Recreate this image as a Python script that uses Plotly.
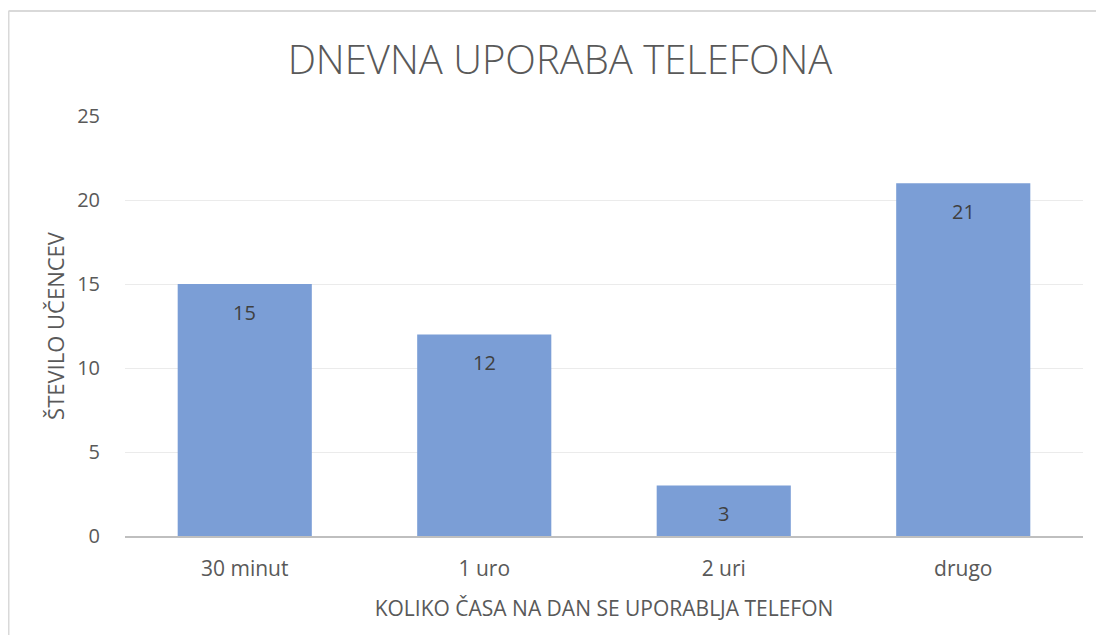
import plotly.graph_objects as go

categories = ["30 minut", "1 uro", "2 uri", "drugo"]
values = [15, 12, 3, 21]
y_ticks = [0, 5, 10, 15, 20, 25]

# page has an 8px body margin; figure origin sits at (8, 8), keep within window
OFF = 8
W, H = 1104 - 2 * OFF, 643 - 2 * OFF
L, R, T, B = 125 - OFF, 1083 - OFF, 116 - OFF, 536 - OFF
pw, ph = R - L, B - T

font_family = "Open Sans, Noto Sans, sans-serif"
txt = "#595959"

fig = go.Figure(go.Bar(
    x=categories, y=values,
    marker=dict(color="#7B9ED6", line=dict(width=0)),
    hoverinfo="x+y",
))

for c, v in zip(categories, values):
    fig.add_annotation(x=c, y=v, xref="x", yref="y", text=str(v), showarrow=False,
                       yanchor="middle", yshift=-28,
                       font=dict(family=font_family, size=20, color="#404040"))

def px(x):
    return (x - L) / pw

def py(y):
    return (B - y) / ph

border = dict(color="#D9D9D9", width=2)
fig.update_layout(
    width=W, height=H,
    margin=dict(l=L, r=W - R, t=T, b=H - B, pad=0),
    paper_bgcolor="white", plot_bgcolor="white",
    bargap=0.44,
    showlegend=False,
    font=dict(family=font_family, color=txt),
    title=dict(text="DNEVNA UPORABA TELEFONA", x=(560 - OFF) / W, xanchor="center",
               y=1 - (60 - OFF) / H, yanchor="middle",
               font=dict(family=font_family, size=40, color=txt, weight=300)),
    xaxis=dict(showgrid=False, showline=True, linecolor="#BFBFBF", linewidth=2, ticks="",
               tickfont=dict(size=21, color=txt), ticklabelstandoff=13,
               title=dict(text="KOLIKO ČASA NA DAN SE UPORABLJA TELEFON", font=dict(size=21, color=txt), standoff=20)),
    yaxis=dict(range=[0, 25], tickvals=y_ticks, showgrid=True, gridcolor="#EBEBEB", gridwidth=1,
               zeroline=False, showline=False, ticks="", tickfont=dict(size=20, color=txt),
               ticklabelstandoff=24,
               title=dict(text="ŠTEVILO UČENCEV", font=dict(size=22, color=txt), standoff=6)),
    shapes=[
        dict(type="line", xref="paper", yref="paper", x0=px(0.5), x1=px(W), y0=py(3), y1=py(3),
             line=border, layer="below"),
        dict(type="line", xref="paper", yref="paper", x0=px(0.5), x1=px(0.5), y0=py(3), y1=py(H),
             line=border, layer="below"),
    ],
)

fig.write_html("out.html")
